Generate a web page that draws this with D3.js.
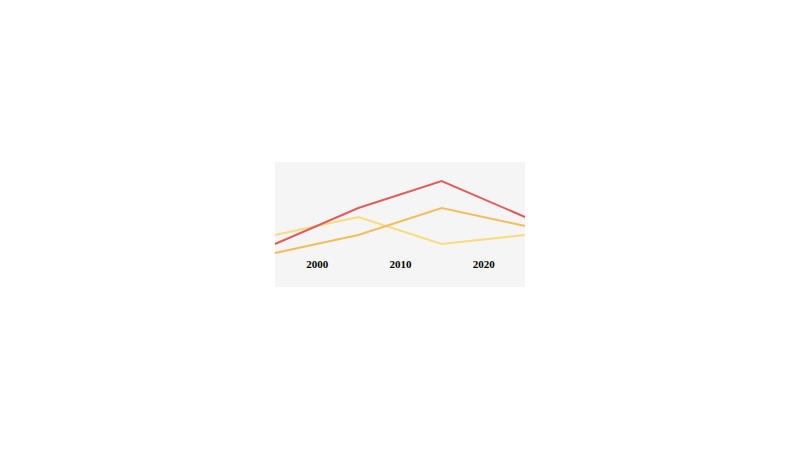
<!DOCTYPE html>
<html>
<head>
<meta charset="utf-8">
<script src="https://cdn.jsdelivr.net/npm/d3@7"></script>
<style>
  body { margin: 0; background: #fff; }
</style>
</head>
<body>
<div id="chart"></div>
<script>
// data
const years = [1995, 2005, 2015, 2025];
const redValues = [2, 6, 9, 5];
const orangeValues = [1, 3, 6, 4];
const yellowValues = [3, 5, 2, 3];
const tickYears = [2000, 2010, 2020];

const width = 800, height = 450;
const box = {x: 275, y: 162, w: 250, h: 125};

const svg = d3.select('#chart')
    .append('svg')
    .attr('width', width)
    .attr('height', height);

// panel background
svg.append('rect')
    .attr('x', box.x)
    .attr('y', box.y)
    .attr('width', box.w)
    .attr('height', box.h)
    .attr('fill', '#f5f5f5');

const x = d3.scaleLinear()
    .domain([1995, 2025])
    .range([box.x, box.x + box.w]);

const y = d3.scaleLinear()
    .domain([0, 10])
    .range([262, 172]);

const line = d3.line()
    .x((d, i) => x(years[i]))
    .y(d => y(d));

const series = [
    {values: yellowValues, color: '#f8dc80'},
    {values: orangeValues, color: '#f3bd5c'},
    {values: redValues, color: '#df5d5d'}
];

svg.selectAll('path.series')
    .data(series)
    .enter()
    .append('path')
    .attr('class', 'series')
    .attr('d', d => line(d.values))
    .attr('fill', 'none')
    .attr('stroke', d => d.color)
    .attr('stroke-width', 2);

// x axis labels, no line or ticks
const axis = svg.append('g')
    .attr('transform', `translate(0, 260)`)
    .call(d3.axisBottom(x).tickValues(tickYears).tickFormat(d3.format('d')).tickSize(0));

axis.select('.domain').remove();
axis.selectAll('text')
    .attr('dy', '0.32em')
    .attr('y', 4)
    .style('font-family', '"Liberation Serif", "Times New Roman", serif')
    .style('font-weight', 'bold')
    .style('font-size', '11px')
    .style('fill', '#000');
</script>
</body>
</html>
